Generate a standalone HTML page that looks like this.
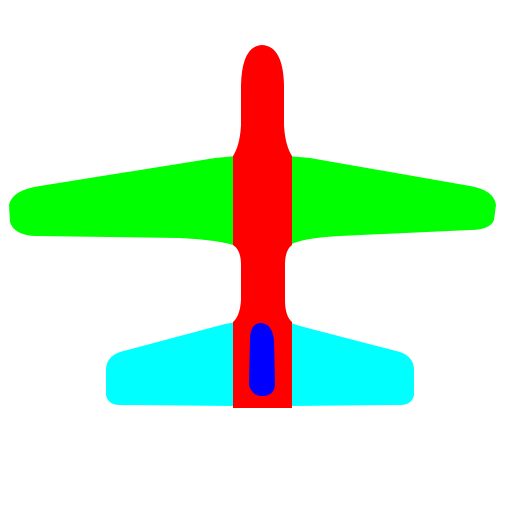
<!DOCTYPE html>
<html><head><meta charset="utf-8"><style>html,body{margin:0;padding:0;background:#fff}svg{display:block}</style></head>
<body>
<svg width="512" height="512" viewBox="0 0 512 512">
<rect width="512" height="512" fill="#fff"/>
<path fill="#00ff00" d="M236,156 L215,158 L40,186 Q12,190 9,205 L10,222 Q14,235 35,236 L180,238 Q220,240 236,246 Z M288,156 L310,158 L470,186 Q494,190 496,205 L494,220 Q490,230 470,230 L340,236 Q300,238 288,246 Z"/>
<path fill="#00ffff" d="M236,322 L225,324 L120,352 Q106,357 106,370 L106,395 Q108,405 120,405 L236,406 Z M288,322 L300,326 L400,352 Q414,357 414,370 L414,395 Q412,405 400,405 L288,406 Z"/>
<path fill="#ff0000" d="M262,45 Q242,46 241,85 L241,125 Q240,145 233,156 L233,245 Q241,250 241,265 L241,300 Q240,316 233,322 L233,408 L292,408 L292,322 Q285,316 285,300 L285,265 Q285,250 292,245 L292,156 Q285,145 284,125 L284,85 Q283,46 262,45 Z"/>
<path fill="#0000ff" d="M260,323 Q250,324 250,340 L249,385 Q252,396 262,396 Q274,396 275,385 L274,340 Q272,323 260,323 Z"/>
</svg>
</body></html>
